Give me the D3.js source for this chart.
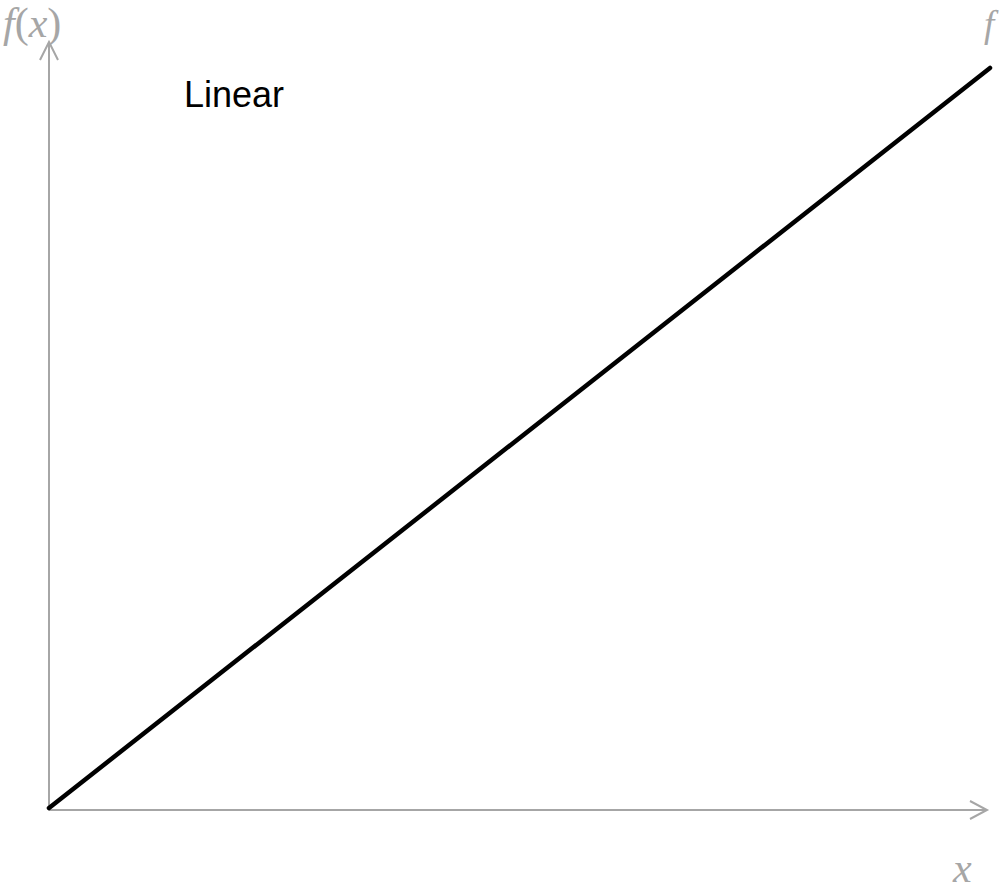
<!DOCTYPE html>
<html>
<head>
<meta charset="utf-8">
<script src="https://cdn.jsdelivr.net/npm/d3@7"></script>
<style>
  body { margin: 0; background: white; }
</style>
</head>
<body>
<div id="container"></div>
<script>
let w = 1000;
let h = 891;

// the two end points of the linear function
let xValues = [0, 1];
let yValues = [0, 1];
let chartTitle = "Linear";

let viz = d3.select("#container")
  .append("svg")
    .attr("width", w)
    .attr("height", h)
    .style("background-color", "white")
;

let xScale = d3.scaleLinear().domain([0, 1]).range([49, 990]);
let yScale = d3.scaleLinear().domain([0, 1]).range([808, 68]);

let axisColor = "#a6a6a6";
let axisY = 810;
let axisX = 49;

// axes with open arrow heads
let axes = viz.append("g").attr("class", "axes")
  .attr("stroke", axisColor)
  .attr("stroke-width", 2)
  .attr("fill", "none");

axes.append("line").attr("x1", axisX).attr("y1", axisY).attr("x2", 986).attr("y2", axisY);
axes.append("polyline").attr("points", "970,801 987,810 970,819");

axes.append("line").attr("x1", axisX).attr("y1", axisY).attr("x2", axisX).attr("y2", 43);
axes.append("polyline").attr("points", "40,60 49,42 58,60");

let points = xValues.map(function(d, i) { return [d, yValues[i]]; });

let line = d3.line()
  .x(function(d) { return xScale(d[0]); })
  .y(function(d) { return yScale(d[1]); });

viz.append("path")
    .datum(points)
    .attr("d", line)
    .attr("fill", "none")
    .attr("stroke", "black")
    .attr("stroke-width", 4.5)
    .attr("stroke-linecap", "round")
;

// labels
let serif = "'Liberation Serif', 'DejaVu Serif', serif";

viz.append("text")
    .attr("x", 3)
    .attr("y", 37)
    .attr("font-family", serif)
    .attr("font-size", 42)
    .attr("fill", axisColor)
    .html("<tspan font-style='italic'>f</tspan>(<tspan font-style='italic'>x</tspan>)")
;

viz.append("text")
    .attr("x", 984)
    .attr("y", 37)
    .attr("font-family", serif)
    .attr("font-size", 37)
    .attr("font-style", "italic")
    .attr("fill", axisColor)
    .text("f")
;

viz.append("text")
    .attr("x", 953)
    .attr("y", 882)
    .attr("font-family", serif)
    .attr("font-size", 42)
    .attr("font-style", "italic")
    .attr("fill", axisColor)
    .text("x")
;

viz.append("text")
    .attr("x", 184)
    .attr("y", 107)
    .attr("font-family", "'Liberation Sans', Arial, sans-serif")
    .attr("font-size", 36)
    .attr("fill", "black")
    .text(chartTitle)
;
</script>
</body>
</html>
